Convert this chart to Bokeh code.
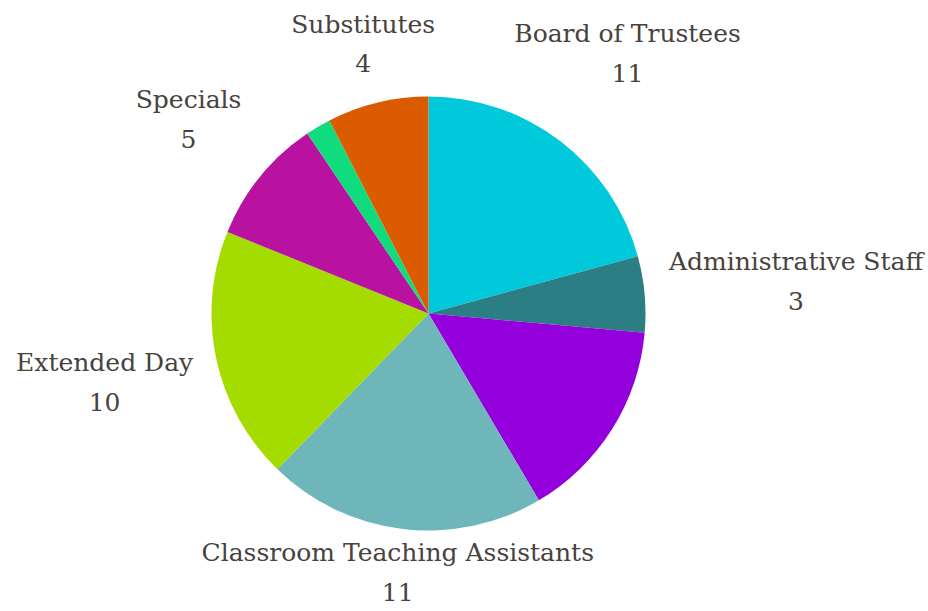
import numpy as np
from bokeh.plotting import figure
from bokeh.models import ColumnDataSource, Range1d
from bokeh.core.properties import value
from bokeh.embed import file_html
from bokeh.resources import INLINE

# ---- data ----
categories = ["Board of Trustees", "Administrative Staff", "", "Classroom Teaching Assistants",
              "Extended Day", "Specials", "", "Substitutes"]
counts = [11, 3, 8, 11, 10, 5, 1, 4]
colors = ["#00C9DB", "#2C7E85", "#9400DB", "#6EB6B9", "#A5DC00", "#B912A0", "#10DC7E", "#DB5C00"]
# label distance from pie centre (px) – layout only
label_dist = [328, 369, 0, 260, 331, 309, 0, 278]

W, H = 928, 611
CX, CY = 428, 313  # pie centre in figure pixels (from left, from top)
R = 217

total = float(sum(counts))
cum = np.cumsum([0] + counts) / total * 2 * np.pi
t1, t2 = cum[:-1], cum[1:]
start = np.pi / 2 - t2
end = np.pi / 2 - t1
mid = (t1 + t2) / 2

p = figure(width=W, height=H, output_backend="svg", toolbar_location=None,
           x_range=Range1d(-CX, W - CX), y_range=Range1d(-(H - CY), CY),
           min_border=0)
p.axis.visible = False
p.grid.visible = False
p.outline_line_color = None
p.background_fill_color = "white"
p.border_fill_color = "white"

src = ColumnDataSource(dict(start=start, end=end, color=colors))
p.wedge(x=0, y=0, radius=R, start_angle="start", end_angle="end",
        fill_color="color", line_color=None, source=src)

idx = [i for i, c in enumerate(categories) if c]
lx = [label_dist[i] * np.sin(mid[i]) for i in idx]
ly = [label_dist[i] * np.cos(mid[i]) for i in idx]
lsrc = ColumnDataSource(dict(x=lx, y=ly,
                             name=[categories[i] for i in idx],
                             val=[str(counts[i]) for i in idx]))
font = value("DejaVu Serif")
p.text(x="x", y="y", text="name", source=lsrc, text_font=font, text_font_size="25px",
       text_color="#47423e", text_align="center", text_baseline="middle", y_offset=-19)
p.text(x="x", y="y", text="val", source=lsrc, text_font=font, text_font_size="25px",
       text_color="#47423e", text_align="center", text_baseline="middle", y_offset=20)

open("out.html", "w").write(file_html(p, INLINE))
